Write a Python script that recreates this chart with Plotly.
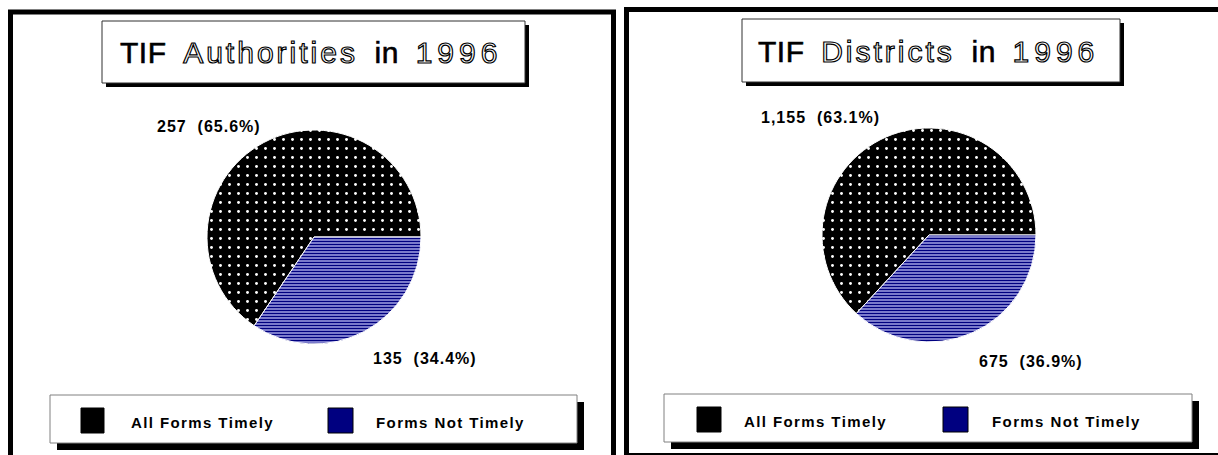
import plotly.graph_objects as go

# ---------------- data ----------------
categories = ["All Forms Timely", "Forms Not Timely"]
authorities_values = [257, 135]
districts_values = [1155, 675]
chart_titles = ["TIF Authorities in 1996", "TIF Districts in 1996"]
title_words_outlined = ["Authorities", "Districts"]
legend_colors = ["#000000", "#000080"]

W, H = 1218, 455
FONT = "Liberation Sans, Arial, sans-serif"


def X(px):
    return px / W


def Y(py):
    return 1 - py / H


def label_text(values, i):
    total = sum(values)
    return f"{values[i]:,}&nbsp;&nbsp;({values[i] / total * 100:.1f}%)"


def pie(values, dom_x, dom_y):
    # "Forms Not Timely" slice starts at 3 o'clock and runs clockwise
    start = 90 - 360 * values[0] / sum(values)
    return go.Pie(
        labels=categories,
        values=values,
        sort=False,
        direction="clockwise",
        rotation=start,
        textinfo="none",
        hoverinfo="label+value+percent",
        showlegend=False,
        domain=dict(x=[X(dom_x[0]), X(dom_x[1])], y=[Y(dom_y[1]), Y(dom_y[0])]),
        marker=dict(
            colors=["#000000", "#a4a4e4"],
            line=dict(color="white", width=1),
            pattern=dict(
                shape=[".", "-"],
                fgcolor=["#ffffff", "#000080"],
                bgcolor=["#000000", "#a4a4e4"],
                size=[9, 3],
                solidity=[0.08, 0.5],
            ),
        ),
    )


fig = go.Figure()
fig.add_trace(pie(authorities_values, (207, 421), (130, 344)))
fig.add_trace(pie(districts_values, (822, 1036), (128, 342)))

shapes = []


def rect(x0, y0, x1, y1, fill=None, line_color=None, lw=0):
    shapes.append(dict(
        type="rect", xref="paper", yref="paper",
        x0=X(x0), x1=X(x1), y0=Y(y1), y1=Y(y0),
        fillcolor=fill if fill else "rgba(0,0,0,0)",
        line=dict(color=line_color if line_color else "rgba(0,0,0,0)", width=lw),
        layer="above",
    ))


def line(x0, y0, x1, y1, width, color="black"):
    shapes.append(dict(
        type="line", xref="paper", yref="paper",
        x0=X(x0), x1=X(x1), y0=Y(y0), y1=Y(y1),
        line=dict(color=color, width=width),
    ))


# panel borders
rect(10.5, 12, 613.5, 480, None, "black", 5)
line(626.5, 9.5, 626.5, 470, 5)
line(624, 9.5, 1240, 9.5, 5)
line(626.5, 454, 1240, 454, 2)

# title boxes (shadow + box)
rect(106, 25, 529, 87, "black")
rect(102, 21, 525, 83, "white", "#303030", 1)
rect(746, 23, 1124, 86, "black")
rect(742, 19, 1120, 82, "white", "#303030", 1)

# legend boxes
rect(57, 402, 584, 450, "black")
rect(50, 395, 577, 443, "white", "#808080", 1)
rect(671, 401, 1199, 449, "black")
rect(664, 394, 1192, 442, "white", "#808080", 1)

# legend swatches
rect(81, 408, 104, 433, legend_colors[0], "black", 1)
rect(328, 408, 353, 433, legend_colors[1], "black", 1)
rect(697, 407, 721, 432, legend_colors[0], "black", 1)
rect(943, 407, 968, 432, legend_colors[1], "black", 1)

annotations = []


def ann(text, x, y, size, xanchor="center", bold=False, color="black"):
    annotations.append(dict(
        text=text, x=X(x), y=Y(y), xref="paper", yref="paper",
        xanchor=xanchor, yanchor="middle", showarrow=False,
        font=dict(family=FONT, size=size, color=color,
                  weight="bold" if bold else "normal"),
    ))


OUT = "color:white;stroke:black;stroke-width:1.2px;"


def title_html(title, outlined):
    parts = []
    for w in title.split(" "):
        if w == outlined:
            parts.append(f'<span style="{OUT}letter-spacing:3px">{w}</span>')
        elif w.isdigit():
            parts.append(f'<span style="{OUT}letter-spacing:5px">{w}</span>')
        else:
            parts.append(f'<span style="stroke:black;stroke-width:0.6px;letter-spacing:0.5px">{w}</span>')
    return "&nbsp;&nbsp;".join(parts)


ann(title_html(chart_titles[0], title_words_outlined[0]), 311, 52, 30)
ann(title_html(chart_titles[1], title_words_outlined[1]), 928, 51, 30)

LS = '<span style="letter-spacing:1px">{}</span>'
# slice labels
ann(LS.format(label_text(authorities_values, 0)), 209, 126, 16, bold=True)
ann(LS.format(label_text(authorities_values, 1)), 425, 358, 16, bold=True)
ann(LS.format(label_text(districts_values, 0)), 820, 118, 16, bold=True)
ann(LS.format(label_text(districts_values, 1)), 1031, 361, 16, bold=True)

# legend texts
LL = '<span style="letter-spacing:1.4px">{}</span>'
ann(LL.format(categories[0]), 129, 422, 15, xanchor="left", bold=True)
ann(LL.format(categories[1]), 374, 422, 15, xanchor="left", bold=True)
ann(LL.format(categories[0]), 742, 421, 15, xanchor="left", bold=True)
ann(LL.format(categories[1]), 990, 421, 15, xanchor="left", bold=True)

fig.update_layout(
    width=W, height=H, autosize=False,
    margin=dict(l=0, r=0, t=0, b=0),
    paper_bgcolor="white", plot_bgcolor="white",
    showlegend=False,
    shapes=shapes, annotations=annotations,
)

fig.write_html("out.html", config={"displayModeBar": False})
